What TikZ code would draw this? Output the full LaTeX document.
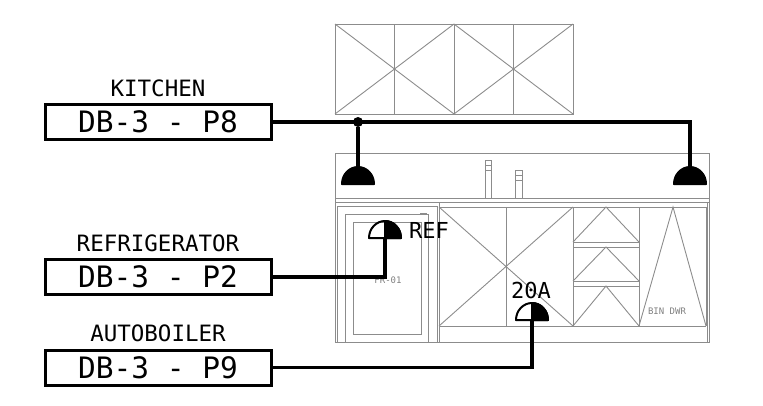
\documentclass[tikz,border=0pt]{standalone}
\usepackage{fontspec}
\setmonofont{DejaVu Sans Mono}
\usetikzlibrary{positioning}
\usetikzlibrary{calc}
\tikzstyle{panelbox}=[draw=black,line width=3pt,minimum width=226pt,minimum height=35pt,inner sep=0pt,font=\ttfamily\fontsize{29.5}{29.5}\selectfont]
\tikzstyle{circuitname}=[inner sep=0pt,font=\ttfamily\fontsize{22.5}{22.5}\selectfont]
\tikzstyle{tagname}=[inner sep=0pt,font=\ttfamily\fontsize{22}{22}\selectfont]
\tikzstyle{joinery}=[draw=black!45,line width=0.9pt]
\tikzstyle{joinerytext}=[inner sep=0pt,text=black!50,font=\ttfamily\fontsize{9}{9}\selectfont]
\tikzstyle{feeder}=[draw,line width=3.2pt,line join=miter]
\tikzstyle{lamp}=[line width=2pt,line join=round]
\tikzstyle{lampspot}=[inner sep=0pt,minimum size=0pt]
\tikzstyle{junction}=[circle,fill=black,minimum size=10pt,inner sep=0pt]

\begin{document}
\begin{tikzpicture}[x=1pt,y=-1pt]
    \useasboundingbox (0,0) rectangle (763,405);

    % First we draw the upper cabinet
    \draw[joinery] (335,24) rectangle (573,114);
    \foreach \x in {394,454,513}
        \draw[joinery] (\x,24) -- (\x,114);
    \foreach \x in {335,454}
        \draw[joinery] (\x,24) -- (\x+119,114) (\x,114) -- (\x+119,24);

    % Then the counter and the splash
    \draw[joinery] (335,153) rectangle (709,342);
    \draw[joinery] (335,198) -- (709,198) (335,202) -- (709,202);
    \draw[joinery] (707,202) -- (707,342);

    % Taps
    \draw[joinery] (485,198) -- (485,160) -- (491,160) -- (491,198);
    \draw[joinery] (485,165) -- (491,165) (485,170) -- (491,170);
    \draw[joinery] (515,198) -- (515,170) -- (522,170) -- (522,198);
    \draw[joinery] (515,175) -- (522,175) (515,180) -- (522,180);

    % Fridge door
    \draw[joinery] (337,342) -- (337,206) -- (437,206) -- (437,342);
    \draw[joinery] (439,202) -- (439,342);
    \draw[joinery] (345,342) -- (345,214) -- (428,214) -- (428,342);
    \draw[joinery] (353,222) rectangle (421,334);
    \draw[joinery] (420,213) -- (427,213);
    \node[joinerytext] (fridgetag) at (388,280) {FR-01};

    % Base cabinet doors
    \draw[joinery] (439,207) -- (706,207) (439,326) -- (706,326);
    \foreach \x in {506,573,639,706}
        \draw[joinery] (\x,207) -- (\x,326);
    \draw[joinery] (439,207) -- (573,326) (439,326) -- (573,207);

    % Drawers
    \foreach \top/\bottom in {207/242, 247/281, 286/326}
        \draw[joinery] (573,\bottom) -- (606,\top) -- (639,\bottom);
    \draw[joinery] (573,242) -- (639,242) (573,247) -- (639,247);
    \draw[joinery] (573,281) -- (639,281) (573,286) -- (639,286);
    \draw[joinery] (639,326) -- (673,207) -- (706,326);
    \node[joinerytext] (bintag) at (667,311) {BIN DWR};

    % Panel schedule boxes and their names
    \foreach \pos/\name/\label in {{(158,122)/boxkitchen/DB-3 - P8}, {(158,277)/boxfridge/DB-3 - P2}, {(158,367.5)/boxboiler/DB-3 - P9}}
        \node[panelbox] (\name) at \pos {\label};
    \node[circuitname,above=6pt of boxkitchen] (namekitchen) {KITCHEN};
    \node[circuitname,above=6pt of boxfridge] (namefridge) {REFRIGERATOR};
    \node[circuitname,above=6pt of boxboiler] (nameboiler) {AUTOBOILER};

    % The outlets
    \foreach \pos/\name in {{(358,184)/lampa}, {(690,184)/lampb}, {(385,238)/lampc}, {(532,320)/lampd}}
        \node[lampspot] (\name) at \pos {};
    \filldraw[lamp] ($(lampa)+(-16,0)$) arc (-180:0:16 and 17) -- cycle;
    \filldraw[lamp] ($(lampb)+(-16,0)$) arc (-180:0:16 and 17) -- cycle;
    \draw[lamp] ($(lampc)+(-16,0)$) arc (-180:0:16 and 17) -- cycle;
    \filldraw[lamp] (lampc.center) -- ($(lampc)+(0,-17)$) arc (-90:0:16 and 17) -- cycle;
    \draw[lamp] ($(lampd)+(-16,0)$) arc (-180:0:16 and 17) -- cycle;
    \filldraw[lamp] (lampd.center) -- ($(lampd)+(0,-17)$) arc (-90:0:16 and 17) -- cycle;
    \node[tagname,anchor=west] (tagref) at (409,230) {REF};
    \node[tagname] (tagamps) at (531,290) {20A};

    % Connect boxes with outlets
    \node[junction] (tee) at (lampa |- boxkitchen.east) {};
    \path[feeder] (boxkitchen.east) -| (lampb);
    \path[feeder] (tee) -- (lampa);
    \path[feeder] (boxfridge.east) -| (lampc);
    \path[feeder] (boxboiler.east) -| (lampd);

\end{tikzpicture}
\end{document}
